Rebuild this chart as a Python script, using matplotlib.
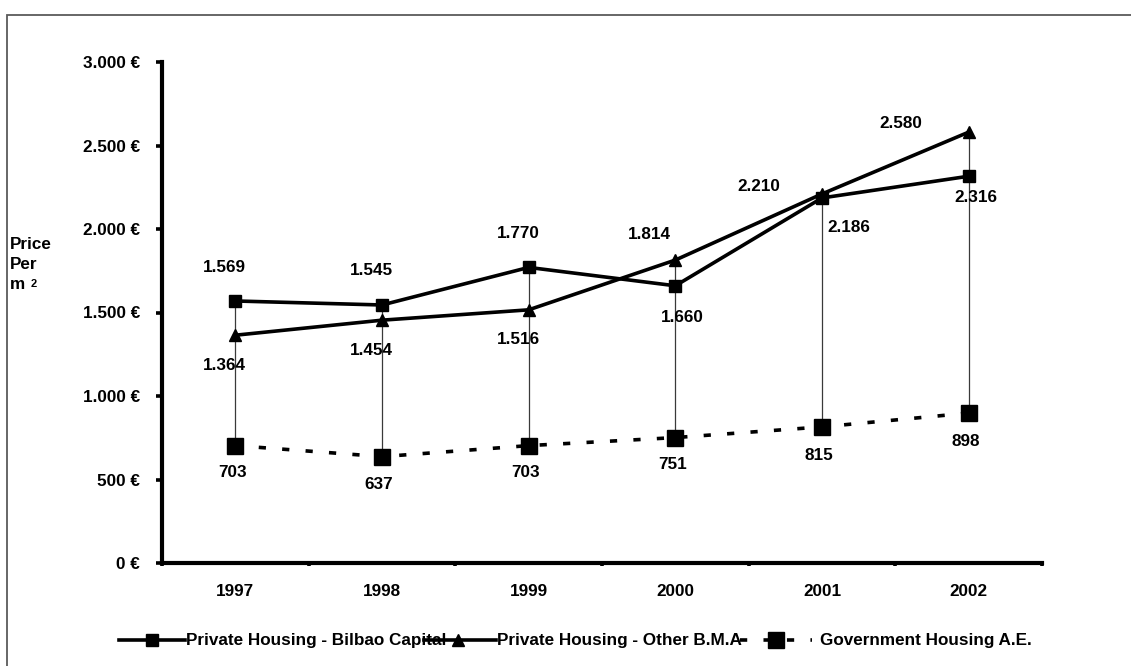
import matplotlib
matplotlib.use("Agg")
import matplotlib.pyplot as plt
from matplotlib.lines import Line2D
from matplotlib.patches import Rectangle
from matplotlib.ticker import FixedLocator, FuncFormatter

# ---- data -------------------------------------------------------------
years = ["1997", "1998", "1999", "2000", "2001", "2002"]
bilbao_capital = [1569, 1545, 1770, 1660, 2186, 2316]
other_bma = [1364, 1454, 1516, 1814, 2210, 2580]
government_ae = [703, 637, 703, 751, 815, 898]
series_names = [
    "Private Housing - Bilbao Capital",
    "Private Housing - Other B.M.A",
    "Government Housing A.E.",
]
y_ticks = [0, 500, 1000, 1500, 2000, 2500, 3000]

# value label offsets (pixels) relative to each point
bilbao_offsets = [(-11, 33), (-11, 34), (-10, 34), (7, -32), (27, -30), (7, -21)]
other_offsets = [(-11, -30), (-11, -30), (-10, -30), (-26, 26), (-63, 7), (-68, 9)]
gov_offsets = [(-3, -27), (-3, -28), (-3, -27), (-3, -27), (-3, -29), (-3, -28)]

# ---- style ------------------------------------------------------------
plt.rcParams["font.family"] = ["Liberation Sans", "DejaVu Sans"]
plt.rcParams["font.weight"] = "bold"
FS = 12.3
W, H = 1131, 666

fig = plt.figure(figsize=(W / 100, H / 100), dpi=100)
fig.patch.set_facecolor("white")


def fx(px):
    return px / W


def fy(py):
    return 1 - py / H


# outer chart frame (only its left and top edges fall inside the image)
frame_bottom = -0.2
fig.patches.append(Rectangle((fx(7), frame_bottom), 1.5, fy(15) - frame_bottom,
                             transform=fig.transFigure, fill=False,
                             edgecolor="#5a5a5a", linewidth=1.3))

ax = fig.add_axes([fx(162), 103 / H, 880 / W, 501 / H])
x = list(range(len(years)))

# high-low connectors between the extremes of each year
for i in x:
    vals = [bilbao_capital[i], other_bma[i], government_ae[i]]
    ax.vlines(i, min(vals), max(vals), colors="#3a3a3a", linewidth=0.9, zorder=1)

line_styles = [
    dict(color="black", linewidth=2.6, marker="s", markersize=8),
    dict(color="black", linewidth=2.6, marker="^", markersize=9),
    dict(color="black", linewidth=2.6, linestyle=(0, (2.0, 4.5)),
         dash_capstyle="butt", marker="s", markersize=11),
]
for vals, style in zip((bilbao_capital, other_bma, government_ae), line_styles):
    ax.plot(x, vals, zorder=3, **style)


def fmt_num(v):
    return f"{v:,}".replace(",", ".")


for vals, offs in ((bilbao_capital, bilbao_offsets),
                   (other_bma, other_offsets),
                   (government_ae, gov_offsets)):
    for i, (v, (dx, dy)) in enumerate(zip(vals, offs)):
        ax.annotate(fmt_num(v), (i, v), xytext=(dx, dy),
                    textcoords="offset pixels", ha="center", va="center",
                    fontsize=FS, fontweight="bold")

# axes
ax.set_xlim(-0.5, len(years) - 0.5)
ax.set_ylim(0, 3000)
for side in ("top", "right"):
    ax.spines[side].set_visible(False)
for side in ("left", "bottom"):
    ax.spines[side].set_linewidth(3)
    ax.spines[side].set_capstyle("projecting")

ax.yaxis.set_major_locator(FixedLocator(y_ticks))
ax.yaxis.set_major_formatter(FuncFormatter(lambda v, p: f"{fmt_num(int(v))} €"))
ax.tick_params(axis="y", direction="out", length=4, width=2.6, pad=12,
               labelsize=FS)

ax.xaxis.set_major_locator(FixedLocator([i - 0.5 for i in range(len(years) + 1)]))
ax.xaxis.set_major_formatter(FuncFormatter(lambda v, p: ""))
ax.set_xticks(x, minor=True)
ax.set_xticklabels(years, minor=True)
ax.tick_params(axis="x", which="major", direction="out", length=2.5, width=2.6)
ax.tick_params(axis="x", which="minor", length=0, pad=15, labelsize=FS)
for lbl in ax.get_yticklabels() + ax.get_xticklabels(minor=True):
    lbl.set_fontweight("bold")

# y axis title, one word per line, with a small "2" after "m"
for word, baseline in (("Price", 249), ("Per", 269), ("m", 289)):
    fig.text(fx(10), fy(baseline), word, ha="left", va="baseline",
             fontsize=FS, fontweight="bold")
fig.text(fx(31), fy(287), "2", ha="left", va="baseline",
         fontsize=8, fontweight="bold")

# legend row: sample line, marker, then series name
legend_y = fy(640)
legend_items = [
    (119, 185, 152, 186),
    (424, 496, 458, 497),
    (740, 812, 776, 820),
]
for (x0, x1, xm, xt), style, name in zip(legend_items, line_styles, series_names):
    fig.text(fx(xt), legend_y, name, ha="left", va="center",
             fontsize=FS, fontweight="bold", zorder=2)
    line_kw = {k: v for k, v in style.items() if k not in ("marker", "markersize")}
    fig.add_artist(Line2D([fx(x0), fx(x1)], [legend_y, legend_y],
                          transform=fig.transFigure, zorder=3, **line_kw))
    fig.add_artist(Line2D([fx(xm)], [legend_y], transform=fig.transFigure,
                          linestyle="none", color="black", zorder=4,
                          marker=style["marker"], markersize=style["markersize"]))

fig.savefig("out.png", dpi=100, facecolor="white")
